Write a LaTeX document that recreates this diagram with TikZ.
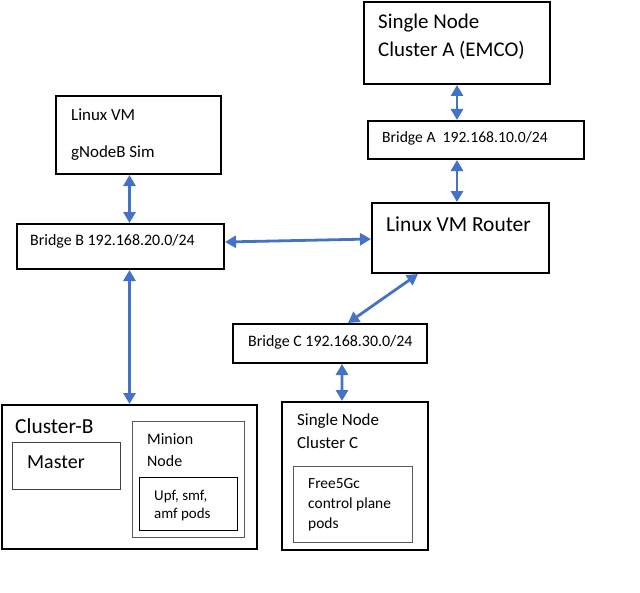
\documentclass[tikz,border=0pt]{standalone}
\usepackage{fontspec}
\setmainfont{Carlito}
\usetikzlibrary{arrows.meta}
\definecolor{arrowblue}{HTML}{4472C4}
\newcommand{\fsz}[2]{\fontsize{#1}{#2}\selectfont}
\begin{document}
\begin{tikzpicture}[x=1bp,y=-1bp,
  mainbox/.style={draw=black,line width=2bp,inner sep=0,anchor=north west},
  innerbox/.style={draw=#1,line width=1.3bp,inner sep=0,anchor=north west},
  lbl/.style={anchor=base west,inner sep=0,align=left},
  link/.style={draw=arrowblue,line width=2.8bp,{Triangle[width=12bp,length=11bp]}-{Triangle[width=12bp,length=11bp]}}]
\useasboundingbox[fill=white] (0,0) rectangle (640,593);
% boxes
\node[mainbox,minimum width=186bp,minimum height=82bp] (clA) at (363,1) {};
\node[mainbox,minimum width=216bp,minimum height=38bp] (brA) at (367,120) {};
\node[mainbox,minimum width=165bp,minimum height=78bp] (gnb) at (55,95) {};
\node[mainbox,minimum width=207bp,minimum height=45bp] (brB) at (16,223) {};
\node[mainbox,minimum width=177bp,minimum height=70bp] (router) at (371,202) {};
\node[mainbox,minimum width=194bp,minimum height=39bp] (brC) at (232,323) {};
\node[mainbox,minimum width=255bp,minimum height=144bp] (clB) at (1,404) {};
\node[innerbox=black!75,minimum width=108bp,minimum height=47bp] (master) at (12,442) {};
\node[innerbox=black!65,minimum width=112bp,minimum height=116bp] (minion) at (132,421) {};
\node[innerbox=black,minimum width=98bp,minimum height=53bp] (upf) at (139,477) {};
\node[mainbox,minimum width=146bp,minimum height=148bp] (clC) at (281,401) {};
\node[innerbox=black!65,minimum width=119bp,minimum height=76bp] (free) at (293,466) {};
% texts (multi-line: point is the baseline of the last line)
\node[lbl,font=\fsz{21}{29}] (tA) at (378,57) {Single Node\\Cluster A (EMCO)};
\node[lbl,font=\fsz{15.7}{19}] (tbA) at (382,143) {Bridge A\ \ 192.168.10.0/24};
\node[lbl,font=\fsz{17}{38}] (tg) at (71,158) {Linux VM\\gNodeB Sim};
\node[lbl,font=\fsz{16}{19}] (tbB) at (30,245) {Bridge B 192.168.20.0/24};
\node[lbl,font=\fsz{21.5}{25}] (tr) at (386,231) {Linux VM Router};
\node[lbl,font=\fsz{16}{19}] (tbC) at (248,346) {Bridge C 192.168.30.0/24};
\node[lbl,font=\fsz{21.5}{25}] (tcB) at (15,433) {Cluster-B};
\node[lbl,font=\fsz{20}{24}] (tm) at (27,468) {Master};
\node[lbl,font=\fsz{16}{22}] (tmn) at (147,466) {Minion\\Node};
\node[lbl,font=\fsz{15}{18}] (tu) at (154,518) {Upf, smf,\\amf pods};
\node[lbl,font=\fsz{17}{23}] (tcC) at (297,448) {Single Node\\Cluster C};
\node[lbl,font=\fsz{15.5}{20}] (tf) at (308,528) {Free5Gc\\control plane\\pods};
% connectors
\draw[link] (clA.south) -- (clA.south |- brA.north);
\draw[link] (brA.south -| clA.south) -- (router.north -| clA.south);
\draw[link] (gnb.south -| clB.north) -- (brB.north -| clB.north);
\draw[link] (brB.south -| clB.north) -- (clB.north);
\draw[link] ([yshift=4.5bp]brB.east) -- ([yshift=-1bp]router.west);
\draw[link] ([xshift=47bp]router.south west) -- ([xshift=116bp]brC.north west);
\draw[link] ([xshift=110bp]brC.south west) -- ([xshift=61bp]clC.north west);
\end{tikzpicture}
\end{document}
